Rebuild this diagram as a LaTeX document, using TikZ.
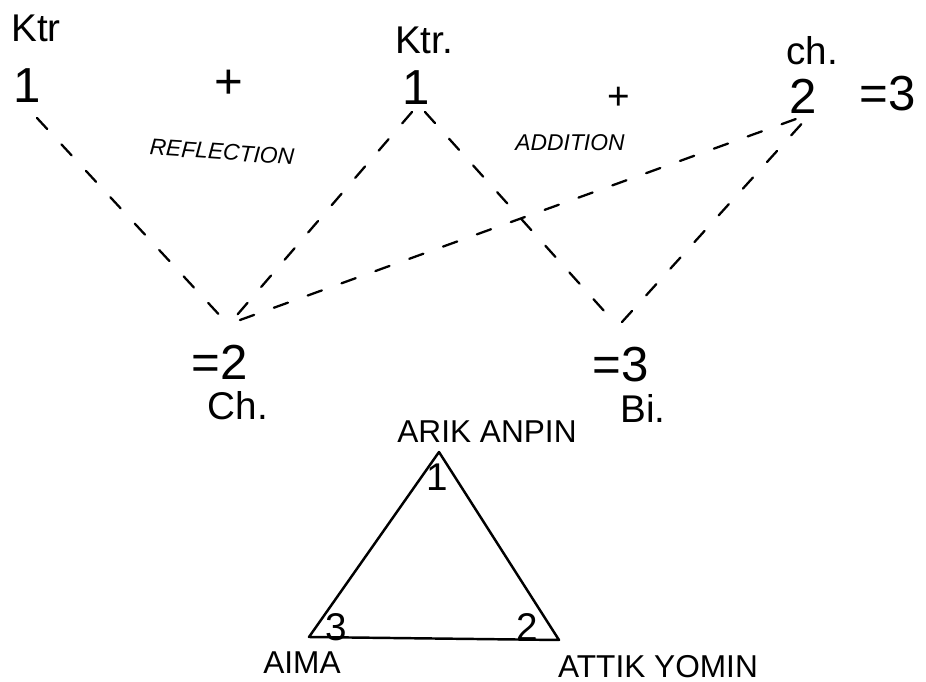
\documentclass[tikz,border=0pt]{standalone}
\usepackage{fontspec}
\setmainfont{Liberation Sans}
\begin{document}
\begin{tikzpicture}[x=0.02cm,y=-0.02cm,
  lbl/.style={inner sep=0pt,font=\fontsize{22}{24}\selectfont},
  num/.style={inner sep=0pt,font=\fontsize{28}{30}\selectfont},
  capl/.style={inner sep=0pt,font=\itshape\fontsize{13}{15}\selectfont},
  nmlabel/.style={inner sep=0pt,font=\fontsize{18}{20}\selectfont},
  dashline/.style={line width=1.3pt,dash pattern=on 0.3cm off 0.42cm,line cap=round},
  tri/.style={line width=1.4pt,line join=round}]
\useasboundingbox (0,0) rectangle (926,682);
% top row
\node[lbl] (ktrA) at (36,28) {Ktr};
\node[num] (oneA) at (27,86) {1};
\node[num] (plusA) at (229,84) {+};
\node[capl,rotate=-4] (refl) at (222,152) {REFLECTION};
\node[lbl] (ktrB) at (424,40) {Ktr.};
\node[num] (oneB) at (416,88) {1};
\node[lbl] (plusC) at (619,98) {+};
\node[capl] (addit) at (570,143) {ADDITION};
\node[lbl] (chC) at (812,51) {ch.};
\node[num] (twoC) at (803,96) {2};
\node[num] (eqC) at (888,94) {=3};
% middle row
\node[num] (eq2) at (220,362) {=2};
\node[lbl] (ch2) at (238,406) {Ch.};
\node[num] (eq3) at (621,365) {=3};
\node[lbl] (bi) at (643,408) {Bi.};
% connector end points
\coordinate (a1) at (37,118);
\coordinate (a2) at (412,112);
\coordinate (a3) at (425,112);
\coordinate (c1) at (807,115);
\coordinate (c2) at (806,119);
\coordinate (m1) at (224,320);
\coordinate (m2) at (231,322);
\coordinate (m3) at (240,320);
\coordinate (r1) at (614,322);
\coordinate (r2) at (622,322);
\draw[dashline] (a1) -- (m1);
\draw[dashline] (a2) -- (m2);
\draw[dashline] (a3) -- (r1);
\draw[dashline] (m3) -- (c1);
\draw[dashline] (r2) -- (c2);
% triangle
\node[nmlabel] (arik) at (487,432) {ARIK ANPIN};
\coordinate (tA) at (439,452);
\coordinate (tB) at (309,637);
\coordinate (tC) at (559,640);
\draw[tri] (tA) -- (tC) -- (tB) -- cycle;
\node[lbl] (t1) at (437,477) {1};
\node[lbl] (t3) at (336,627) {3};
\node[lbl] (t2) at (527,627) {2};
\node[nmlabel] (aima) at (302,663) {AIMA};
\node[nmlabel] (attik) at (658,667) {ATTIK YOMIN};
\end{tikzpicture}
\end{document}
